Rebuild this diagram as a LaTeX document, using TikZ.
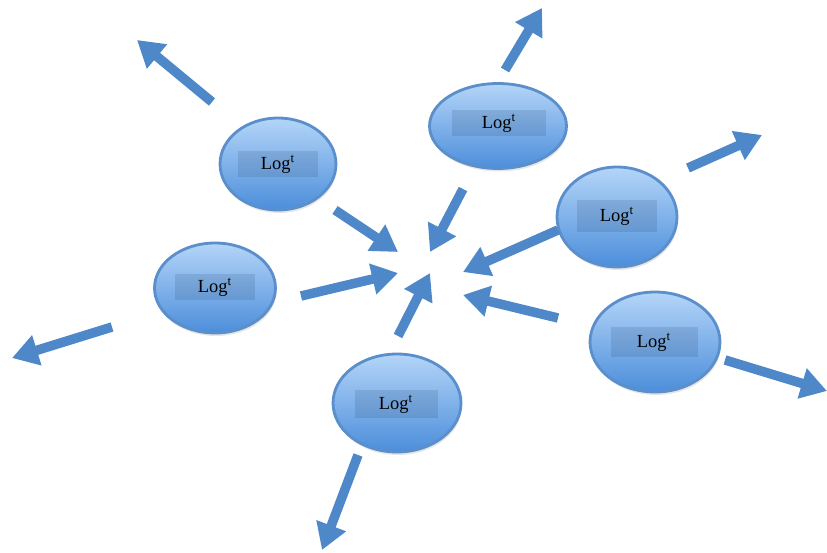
\documentclass[tikz,border=0pt]{standalone}
\usepackage{fontspec}
\setmainfont{Liberation Serif}
\usetikzlibrary{arrows.meta,shadows,shapes.geometric}

\definecolor{bubbletop}{HTML}{B4D5F8}
\definecolor{bubblebot}{HTML}{4C8EDB}
\definecolor{bubbleline}{HTML}{5B8FCB}
\definecolor{arrowblue}{HTML}{4F88C8}

\begin{document}
\begin{tikzpicture}[x=0.02cm,y=-0.02cm,
    bubble/.style={ellipse,draw=bubbleline,line width=1.6pt,top color=bubbletop,bottom color=bubblebot,
      inner sep=0pt,drop shadow={shadow xshift=0.02cm,shadow yshift=-0.06cm,opacity=0.2}},
    logbox/.style={fill=black!50!bubblebot,fill opacity=0.16,text opacity=1,minimum width=1.6cm,
      minimum height=0.52cm,inner sep=0pt,font=\fontsize{10.5}{11}\selectfont},
    flow/.style={draw=arrowblue,line width=0.19cm,-{Triangle[length=0.52cm,width=0.6cm]},arrowblue}]

\useasboundingbox (0,0) rectangle (827,553);

% bubbles
\node[bubble,minimum width=2.32cm,minimum height=1.84cm] (b1) at (278,164) {};
\node[bubble,minimum width=2.74cm,minimum height=1.7cm] (b2) at (498,126) {};
\node[bubble,minimum width=2.4cm,minimum height=2cm] (b3) at (617,217) {};
\node[bubble,minimum width=2.42cm,minimum height=1.8cm] (b4) at (215,288) {};
\node[bubble,minimum width=2.6cm,minimum height=2cm] (b5) at (655,342) {};
\node[bubble,minimum width=2.56cm,minimum height=1.96cm] (b6) at (397,403) {};

% labels
\node[logbox] (t1) at (b1) {Log\textsuperscript{t}\hspace{0.25cm}};
\node[logbox,minimum width=1.88cm] (t2) at (499,123) {Log\textsuperscript{t}\hspace{0.6cm}};
\node[logbox,minimum height=0.64cm] (t3) at (617,216) {Log\textsuperscript{t}\hspace{0.25cm}};
\node[logbox] (t4) at (215,287) {Log\textsuperscript{t}\hspace{0.25cm}};
\node[logbox,minimum width=1.74cm,minimum height=0.6cm] (t5) at (654,342) {Log\textsuperscript{t}\hspace{0.35cm}};
\node[logbox,minimum width=1.66cm,minimum height=0.56cm] (t6) at (396,404) {Log\textsuperscript{t}\hspace{0.3cm}};

% arrow ends
\coordinate (o1) at (212,102); \coordinate (p1) at (137,40);
\coordinate (o2) at (505,70);  \coordinate (p2) at (542,8);
\coordinate (o3) at (688,168); \coordinate (p3) at (762,135);
\coordinate (o4) at (112,327); \coordinate (p4) at (12,358);
\coordinate (o5) at (725,360); \coordinate (p5) at (827,391);
\coordinate (o6) at (358,455); \coordinate (p6) at (322,550);

\coordinate (i1) at (335,210); \coordinate (q1) at (398,252);
\coordinate (i2) at (463,189); \coordinate (q2) at (430,252);
\coordinate (i3) at (301,296); \coordinate (q3) at (398,273);
\coordinate (i4) at (558,230); \coordinate (q4) at (463,272);
\coordinate (i5) at (398,336); \coordinate (q5) at (430,273);
\coordinate (i6) at (558,318); \coordinate (q6) at (463,295);

% outward
\foreach \k in {1,...,6}
  \draw[flow] (o\k) -- (p\k);

% inward
\foreach \k in {1,...,6}
  \draw[flow] (i\k) -- (q\k);

\end{tikzpicture}
\end{document}
